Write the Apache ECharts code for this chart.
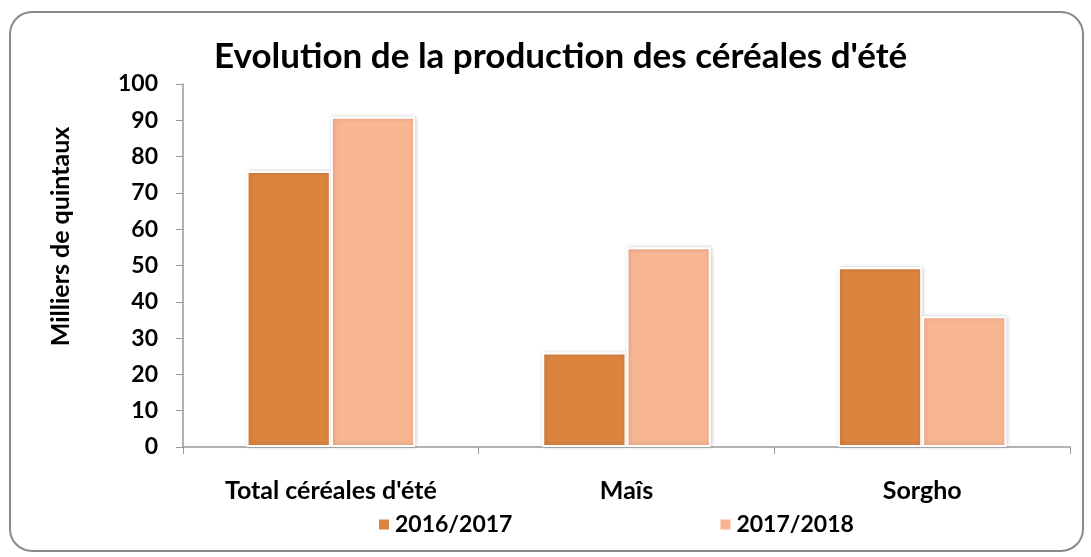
<!DOCTYPE html>
<html>
<head>
<meta charset="utf-8">
<script src="https://cdn.jsdelivr.net/npm/echarts@6/dist/echarts.min.js"></script>
<style>
  html, body { margin: 0; padding: 0; background: #fff; }
  #main { width: 1091px; height: 557px; }
</style>
</head>
<body>
<div id="main"></div>
<script>
// données
var categories = ['Total céréales d\'été', 'Maîs', 'Sorgho'];
var seriesNames = ['2016/2017', '2017/2018'];
var values2016 = [76, 26, 49.5];
var values2017 = [91, 55, 36];
var yTicks = [0, 100, 10]; // min, max, pas

var colors = ['#DB8440', '#F8B592'];
var font = 'Lato, "Open Sans", sans-serif';

var myChart = echarts.init(document.getElementById('main'));

function barSeries(name, data, color) {
    return {
        name: name,
        type: 'bar',
        data: data,
        barGap: '0%',
        barCategoryGap: '43%',
        itemStyle: {
            color: color,
            borderColor: '#fff',
            borderWidth: 2,
            shadowColor: 'rgba(0,0,0,0.18)',
            shadowBlur: 4,
            shadowOffsetX: 1
        }
    };
}

var option = {
    animation: false,
    textStyle: { fontFamily: font },
    graphic: [{
        type: 'rect',
        shape: { x: 10, y: 12, width: 1073, height: 539, r: 22 },
        style: { fill: 'none', stroke: '#8a8a8a', lineWidth: 2 },
        silent: true
    }],
    title: {
        text: 'Evolution de la production des céréales d\'été',
        left: 209,
        top: 34,
        textStyle: { fontFamily: font, fontWeight: 'bold', fontSize: 35, color: '#000' }
    },
    legend: {
        data: seriesNames,
        bottom: 16,
        left: 372,
        itemGap: 206,
        itemWidth: 12,
        itemHeight: 12,
        icon: 'rect',
        textStyle: { fontFamily: font, fontWeight: 'bold', fontSize: 23, color: '#000' }
    },
    grid: { left: 183, right: 21, top: 84, bottom: 110, containLabel: false },
    xAxis: {
        type: 'category',
        data: categories,
        axisLine: { lineStyle: { color: '#999', width: 1.5 } },
        axisTick: { show: true, length: 7, lineStyle: { color: '#999' } },
        axisLabel: { margin: 31, fontFamily: font, fontWeight: 'bold', fontSize: 25, color: '#000' }
    },
    yAxis: {
        type: 'value',
        min: yTicks[0],
        max: yTicks[1],
        interval: yTicks[2],
        name: 'Milliers de quintaux',
        nameLocation: 'middle',
        nameGap: 110,
        nameTextStyle: { fontFamily: font, fontWeight: 'bold', fontSize: 25, color: '#000', padding: [0, 0, 0, 58] },
        axisLine: { show: true, lineStyle: { color: '#999', width: 1.5 } },
        axisTick: { show: true, length: 7, lineStyle: { color: '#999' } },
        splitLine: { show: false },
        axisLabel: { margin: 25, fontFamily: font, fontWeight: 'bold', fontSize: 23, color: '#000' }
    },
    series: [
        barSeries(seriesNames[0], values2016, colors[0]),
        barSeries(seriesNames[1], values2017, colors[1])
    ]
};

myChart.setOption(option);
</script>
</body>
</html>
